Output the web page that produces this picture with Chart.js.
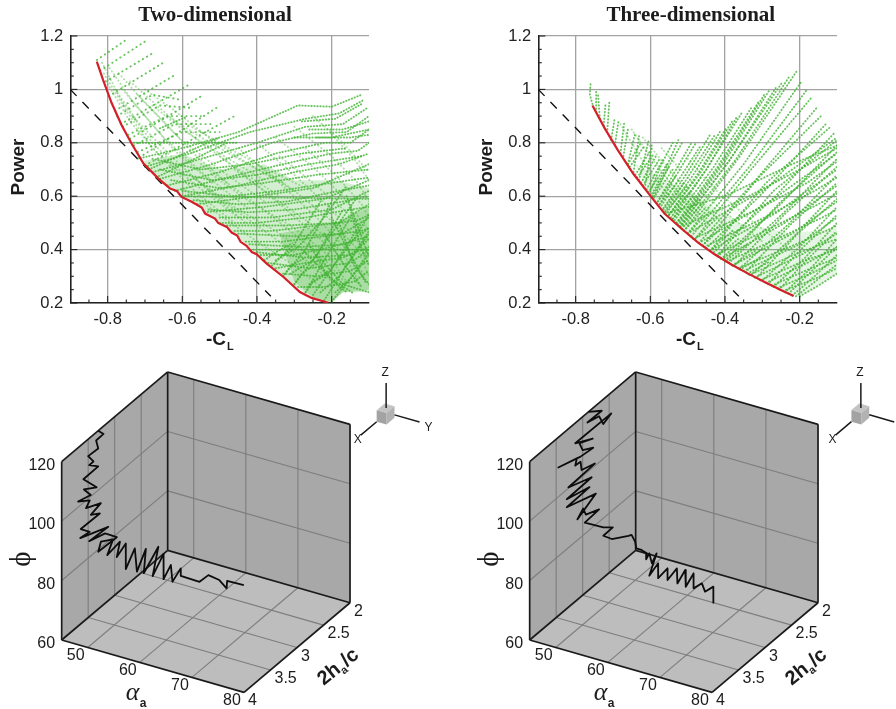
<!DOCTYPE html>
<html>
<head>
<meta charset="utf-8">
<title>Two- and three-dimensional Pareto fronts</title>
<script src="https://cdn.jsdelivr.net/npm/chart.js@4"></script>
<style>
html, body { margin: 0; background: #fff; }
#page { position: relative; width: 896px; height: 709px; overflow: hidden; }
canvas { position: absolute; }
</style>
</head>
<body>
<div id="page">
  <canvas id="front2d" width="448" height="355" style="left:0;top:0"></canvas>
  <canvas id="front3d" width="448" height="355" style="left:448px;top:0"></canvas>
  <canvas id="path2d" width="448" height="354" style="left:0;top:355px"></canvas>
  <canvas id="path3d" width="448" height="354" style="left:448px;top:355px"></canvas>
</div>
<script>
// top row axes
const xTicks = [-0.8, -0.6, -0.4, -0.2];
const yTicks = [0.2, 0.4, 0.6, 0.8, 1, 1.2];
const xMinor = [-0.85, -0.75, -0.7, -0.65, -0.55, -0.5, -0.45, -0.35, -0.3, -0.25, -0.15];
const yMinor = [0.25, 0.3, 0.35, 0.45, 0.5, 0.55, 0.65, 0.7, 0.75, 0.85, 0.9, 0.95, 1.05, 1.1, 1.15];

// dashed reference line, same in both panels
const refLine = [[-0.9, 1], [-0.363, 0.225]];

// red fronts
const front2d = [[-0.829,1.104],[-0.812,1.035],[-0.789,0.948],[-0.7625,0.866],[-0.736,0.7975],[-0.704,0.7225],[-0.664,0.666],[-0.633,0.629],[-0.615,0.62],[-0.602,0.5975],[-0.575,0.579],[-0.548,0.5575],[-0.539,0.535],[-0.5125,0.516],[-0.504,0.5],[-0.481,0.485],[-0.468,0.464],[-0.453,0.4525],[-0.444,0.429],[-0.428,0.414],[-0.414,0.391],[-0.401,0.3825],[-0.374,0.3475],[-0.329,0.2975],[-0.285,0.241],[-0.254,0.219],[-0.209,0.201]];
const front3d = [[-0.755,0.94],[-0.722,0.854],[-0.687,0.7725],[-0.646,0.685],[-0.606,0.6125],[-0.562,0.535],[-0.517,0.479],[-0.472,0.4265],[-0.428,0.3825],[-0.383,0.344],[-0.338,0.31],[-0.294,0.279],[-0.249,0.2475],[-0.216,0.226]];

// where the green samples pile up so tightly they read as a tint
const dense2d = [[-0.71,0.73],[-0.664,0.666],[-0.575,0.579],[-0.481,0.485],[-0.401,0.3825],[-0.329,0.2975],[-0.254,0.219],[-0.2,0.2],[-0.17,0.24],[-0.1,0.24],[-0.1,0.63],[-0.19,0.66],[-0.3,0.66],[-0.38,0.72],[-0.5,0.7],[-0.6,0.76]];
const core2d = [[-0.34,0.46],[-0.3,0.28],[-0.25,0.222],[-0.2,0.205],[-0.17,0.24],[-0.1,0.25],[-0.1,0.56],[-0.19,0.5]];
const dense3d = [[-0.64,0.72],[-0.606,0.6125],[-0.517,0.479],[-0.428,0.3825],[-0.338,0.31],[-0.249,0.2475],[-0.2,0.225],[-0.1,0.31],[-0.1,0.48],[-0.22,0.46],[-0.36,0.5],[-0.5,0.62]];

const sparse2d = [
  [[-0.829,1.11],[-0.745,1.191]], [[-0.82,1.07],[-0.696,1.183]], [[-0.805,1.03],[-0.673,1.141]],
  [[-0.797,0.975],[-0.646,1.104]], [[-0.78,0.92],[-0.62,1.054]], [[-0.765,0.87],[-0.584,1.016]],
  [[-0.74,0.815],[-0.544,0.979]], [[-0.715,0.745],[-0.504,0.935]], [[-0.7,0.715],[-0.463,0.898]],
  [[-0.775,0.9],[-0.68,0.98],[-0.6,0.96]], [[-0.76,0.86],[-0.66,0.94],[-0.57,0.93]], [[-0.745,0.83],[-0.64,0.9],[-0.55,0.9]],
  [[-0.73,0.79],[-0.62,0.87],[-0.52,0.87]], [[-0.72,0.765],[-0.6,0.84],[-0.5,0.84]]
];
// faint rows crossing the main ones
const cross2d = [
  [[-0.815,1.1],[-0.76,0.95],[-0.68,0.8],[-0.58,0.66],[-0.45,0.52]],
  [[-0.795,1.08],[-0.73,0.95],[-0.65,0.82],[-0.54,0.68],[-0.42,0.55]],
  [[-0.77,1.06],[-0.7,0.95],[-0.61,0.82],[-0.5,0.7],[-0.38,0.58]],
  [[-0.74,1.03],[-0.66,0.93],[-0.56,0.81],[-0.46,0.71],[-0.34,0.6]],
  [[-0.7,1.0],[-0.62,0.92],[-0.52,0.81],[-0.41,0.71],[-0.3,0.62]],
  [[-0.8,1.02],[-0.74,0.88],[-0.66,0.75],[-0.56,0.61],[-0.46,0.5]],
  [[-0.78,1.0],[-0.72,0.88],[-0.63,0.75],[-0.53,0.62],[-0.43,0.5]],
  [[-0.81,1.06],[-0.75,0.92],[-0.68,0.78],[-0.6,0.68]], [[-0.76,1.0],[-0.7,0.9],[-0.62,0.77],[-0.52,0.65]],
  [[-0.72,0.98],[-0.65,0.88],[-0.57,0.76],[-0.48,0.65]], [[-0.68,0.94],[-0.6,0.85],[-0.5,0.76],[-0.38,0.66]],
  [[-0.64,0.9],[-0.55,0.82],[-0.45,0.74],[-0.33,0.65]], [[-0.6,0.88],[-0.5,0.8],[-0.4,0.72],[-0.27,0.63]],
  [[-0.6,0.63],[-0.5,0.53],[-0.4,0.43],[-0.3,0.34],[-0.22,0.25]],
  [[-0.58,0.68],[-0.47,0.56],[-0.36,0.45],[-0.27,0.36],[-0.19,0.27]],
  [[-0.55,0.72],[-0.43,0.6],[-0.32,0.48],[-0.23,0.38],[-0.16,0.27]],
  [[-0.5,0.75],[-0.39,0.63],[-0.28,0.5],[-0.19,0.39],[-0.13,0.27]],
  [[-0.45,0.78],[-0.34,0.65],[-0.24,0.52],[-0.16,0.4],[-0.11,0.3]],
  [[-0.4,0.8],[-0.3,0.68],[-0.2,0.55],[-0.13,0.43],[-0.1,0.36]],
  [[-0.35,0.82],[-0.25,0.71],[-0.17,0.6],[-0.1,0.47]],
  [[-0.3,0.86],[-0.2,0.75],[-0.13,0.65],[-0.1,0.58]],
  [[-0.25,0.9],[-0.17,0.8],[-0.1,0.69]],
  [[-0.56,0.66],[-0.45,0.55],[-0.35,0.47],[-0.25,0.37],[-0.18,0.26]], [[-0.52,0.68],[-0.42,0.58],[-0.31,0.49],[-0.21,0.38],[-0.15,0.26]],
  [[-0.46,0.7],[-0.36,0.6],[-0.26,0.5],[-0.17,0.39],[-0.12,0.26]], [[-0.4,0.72],[-0.3,0.62],[-0.21,0.52],[-0.13,0.4],[-0.1,0.3]],
  [[-0.34,0.75],[-0.25,0.65],[-0.16,0.54],[-0.1,0.43]], [[-0.27,0.78],[-0.19,0.68],[-0.12,0.57],[-0.1,0.52]], [[-0.2,0.83],[-0.14,0.74],[-0.1,0.66]]
];
const rows2d = [
  [[-0.66,0.854],[-0.588,0.898]], [[-0.69,0.7],[-0.5,0.82]], [[-0.67,0.67],[-0.48,0.8]],
  [[-0.72,0.74],[-0.6,0.78],[-0.45,0.84],[-0.29,0.94],[-0.2,0.935],[-0.12,0.98]],
  [[-0.7,0.71],[-0.58,0.76],[-0.42,0.84],[-0.27,0.89],[-0.18,0.91],[-0.115,0.96]],
  [[-0.68,0.69],[-0.55,0.74],[-0.4,0.8],[-0.27,0.86],[-0.17,0.87],[-0.105,0.93]],
  [[-0.66,0.665],[-0.52,0.72],[-0.36,0.8],[-0.25,0.835],[-0.16,0.84],[-0.1,0.9]],
  [[-0.64,0.64],[-0.5,0.69],[-0.35,0.76],[-0.22,0.8],[-0.15,0.8],[-0.1,0.85]],
  [[-0.62,0.62],[-0.48,0.67],[-0.33,0.72],[-0.2,0.76],[-0.13,0.77],[-0.1,0.8]],
  [[-0.6,0.6],[-0.45,0.64],[-0.3,0.69],[-0.18,0.72],[-0.1,0.76]],
  [[-0.28,0.88],[-0.19,0.89],[-0.12,0.945]], [[-0.26,0.85],[-0.17,0.85],[-0.1,0.88]], [[-0.24,0.82],[-0.15,0.82],[-0.1,0.83]], [[-0.3,0.82],[-0.2,0.82],[-0.1,0.85]],
  [[-0.73,0.8],[-0.6,0.8],[-0.45,0.8]], [[-0.6,0.6],[-0.35,0.595],[-0.1,0.59]], [[-0.41,0.4],[-0.25,0.4],[-0.1,0.4]],
  [[-0.68,0.74],[-0.55,0.7],[-0.42,0.72],[-0.28,0.76],[-0.16,0.78]], [[-0.66,0.7],[-0.52,0.66],[-0.4,0.68],[-0.26,0.72],[-0.12,0.75]],
  [[-0.63,0.66],[-0.5,0.63],[-0.38,0.65],[-0.24,0.68],[-0.1,0.7]], [[-0.6,0.62],[-0.47,0.6],[-0.34,0.62],[-0.2,0.65],[-0.1,0.67]],
  [[-0.57,0.585],[-0.45,0.57],[-0.32,0.58],[-0.18,0.62],[-0.1,0.64]], [[-0.53,0.55],[-0.42,0.54],[-0.3,0.55],[-0.17,0.58],[-0.1,0.6]],
  [[-0.5,0.5],[-0.4,0.5],[-0.27,0.52],[-0.15,0.55],[-0.1,0.56]], [[-0.46,0.47],[-0.36,0.47],[-0.24,0.49],[-0.13,0.51],[-0.1,0.53]],
  [[-0.43,0.43],[-0.33,0.43],[-0.22,0.45],[-0.12,0.47],[-0.1,0.48]], [[-0.39,0.38],[-0.3,0.38],[-0.2,0.41],[-0.1,0.45]], [[-0.35,0.33],[-0.27,0.35],[-0.17,0.37],[-0.1,0.41]],
  [[-0.56,0.57],[-0.4,0.6],[-0.25,0.63],[-0.1,0.72]], [[-0.54,0.54],[-0.38,0.56],[-0.22,0.59],[-0.1,0.66]],
  [[-0.5,0.52],[-0.36,0.52],[-0.2,0.55],[-0.1,0.62]], [[-0.48,0.49],[-0.33,0.49],[-0.18,0.5],[-0.1,0.57]],
  [[-0.45,0.46],[-0.3,0.45],[-0.17,0.46],[-0.1,0.52]], [[-0.42,0.42],[-0.28,0.41],[-0.16,0.42],[-0.1,0.48]],
  [[-0.4,0.39],[-0.27,0.37],[-0.15,0.38],[-0.1,0.44]], [[-0.37,0.35],[-0.26,0.33],[-0.15,0.35],[-0.1,0.4]],
  [[-0.33,0.31],[-0.24,0.3],[-0.15,0.32],[-0.1,0.36]], [[-0.29,0.26],[-0.22,0.26],[-0.14,0.28],[-0.1,0.32]],
  [[-0.25,0.23],[-0.2,0.33],[-0.12,0.5]], [[-0.22,0.21],[-0.17,0.32],[-0.1,0.47]], [[-0.2,0.205],[-0.14,0.31],[-0.1,0.39]],
  [[-0.27,0.24],[-0.22,0.36],[-0.15,0.52]], [[-0.3,0.27],[-0.24,0.38],[-0.17,0.55]], [[-0.33,0.3],[-0.27,0.4],[-0.2,0.58]],
  [[-0.36,0.34],[-0.3,0.42],[-0.23,0.58]], [[-0.24,0.38],[-0.17,0.27],[-0.1,0.24]], [[-0.28,0.4],[-0.2,0.29],[-0.14,0.235]],
  [[-0.18,0.5],[-0.14,0.34],[-0.1,0.27]], [[-0.15,0.55],[-0.12,0.4],[-0.1,0.34]],
  [[-0.26,0.27],[-0.21,0.31],[-0.14,0.44],[-0.1,0.53]], [[-0.23,0.24],[-0.18,0.3],[-0.12,0.42],[-0.1,0.46]], [[-0.19,0.24],[-0.15,0.29],[-0.11,0.36]],
  [[-0.31,0.31],[-0.25,0.36],[-0.19,0.48],[-0.13,0.6]], [[-0.35,0.36],[-0.29,0.41],[-0.22,0.52],[-0.16,0.64]], [[-0.22,0.46],[-0.17,0.35],[-0.12,0.26]],
  [[-0.2,0.52],[-0.15,0.38],[-0.11,0.28]], [[-0.16,0.6],[-0.12,0.45],[-0.1,0.37]], [[-0.26,0.42],[-0.21,0.3],[-0.16,0.24]],
  [[-0.33,0.3],[-0.31,0.34],[-0.27,0.37]], [[-0.3,0.27],[-0.28,0.31],[-0.24,0.35]], [[-0.27,0.24],[-0.25,0.28],[-0.21,0.32]], [[-0.38,0.36],[-0.35,0.39],[-0.31,0.42]]
];
const rows3d = [
  [[-0.755,0.945],[-0.762,0.98],[-0.76,1.02]], [[-0.745,0.915],[-0.745,0.99]], [[-0.735,0.89],[-0.74,0.98]],
  [[-0.725,0.865],[-0.72,0.945]], [[-0.715,0.85],[-0.71,0.95]], [[-0.705,0.81],[-0.695,0.895]],
  [[-0.695,0.79],[-0.685,0.885]], [[-0.68,0.76],[-0.67,0.875]], [[-0.672,0.75],[-0.66,0.85]],
  [[-0.66,0.72],[-0.64,0.84]], [[-0.645,0.69],[-0.63,0.825]], [[-0.63,0.66],[-0.605,0.805]], [[-0.615,0.63],[-0.595,0.8]],
  [[-0.66,0.72],[-0.625,0.8]], [[-0.64,0.68],[-0.6,0.77]], [[-0.625,0.65],[-0.585,0.75]], [[-0.61,0.625],[-0.565,0.74]],
  [[-0.595,0.6],[-0.55,0.71]], [[-0.58,0.58],[-0.53,0.68]], [[-0.565,0.55],[-0.51,0.65]], [[-0.55,0.53],[-0.49,0.62]],
  [[-0.53,0.5],[-0.47,0.59]], [[-0.51,0.47],[-0.45,0.56]],
  [[-0.655,0.71],[-0.615,0.79]], [[-0.635,0.67],[-0.59,0.76]], [[-0.62,0.64],[-0.575,0.74]], [[-0.605,0.615],[-0.555,0.72]],
  [[-0.59,0.595],[-0.54,0.7]], [[-0.575,0.57],[-0.52,0.665]], [[-0.56,0.54],[-0.5,0.64]], [[-0.54,0.515],[-0.48,0.605]],
  [[-0.52,0.485],[-0.46,0.575]], [[-0.5,0.46],[-0.44,0.545]], [[-0.48,0.44],[-0.42,0.52]], [[-0.46,0.415],[-0.4,0.495]],
  [[-0.44,0.395],[-0.38,0.47]], [[-0.42,0.375],[-0.36,0.445]], [[-0.4,0.355],[-0.34,0.42]], [[-0.38,0.34],[-0.32,0.395]],
  [[-0.36,0.325],[-0.3,0.375]], [[-0.34,0.31],[-0.28,0.355]],
  [[-0.6,0.62],[-0.57,0.72],[-0.54,0.8]], [[-0.59,0.6],[-0.555,0.7],[-0.515,0.8]], [[-0.58,0.58],[-0.535,0.69],[-0.49,0.8]],
  [[-0.57,0.565],[-0.52,0.67],[-0.465,0.79]], [[-0.565,0.555],[-0.505,0.68],[-0.44,0.83]], [[-0.555,0.54],[-0.485,0.68],[-0.414,0.84]],
  [[-0.55,0.53],[-0.465,0.69],[-0.379,0.885]], [[-0.54,0.515],[-0.45,0.7],[-0.356,0.91]], [[-0.53,0.5],[-0.42,0.71],[-0.307,0.96]],
  [[-0.525,0.49],[-0.405,0.72],[-0.28,1.0]], [[-0.52,0.485],[-0.385,0.74],[-0.245,1.03]], [[-0.51,0.47],[-0.36,0.75],[-0.209,1.066]],
  [[-0.49,0.45],[-0.335,0.71],[-0.18,1.0]], [[-0.47,0.425],[-0.315,0.665],[-0.155,0.93]], [[-0.45,0.405],[-0.29,0.625],[-0.13,0.87]],
  [[-0.43,0.39],[-0.265,0.6],[-0.105,0.84]], [[-0.41,0.365],[-0.255,0.565],[-0.1,0.79]], [[-0.39,0.35],[-0.245,0.535],[-0.1,0.74]],
  [[-0.36,0.33],[-0.23,0.495],[-0.1,0.68]], [[-0.33,0.305],[-0.215,0.45],[-0.1,0.62]], [[-0.3,0.285],[-0.2,0.41],[-0.1,0.56]],
  [[-0.27,0.26],[-0.185,0.37],[-0.1,0.5]], [[-0.24,0.24],[-0.17,0.33],[-0.1,0.44]], [[-0.22,0.228],[-0.16,0.3],[-0.1,0.38]],
  [[-0.2,0.225],[-0.15,0.265],[-0.1,0.31]],
  [[-0.595,0.61],[-0.56,0.7],[-0.525,0.81]], [[-0.575,0.57],[-0.53,0.68],[-0.478,0.8]], [[-0.56,0.545],[-0.5,0.67],[-0.427,0.83]],
  [[-0.55,0.53],[-0.47,0.69],[-0.395,0.86]], [[-0.545,0.52],[-0.45,0.7],[-0.367,0.9]], [[-0.535,0.51],[-0.43,0.71],[-0.33,0.93]],
  [[-0.527,0.495],[-0.41,0.72],[-0.295,0.98]], [[-0.522,0.487],[-0.39,0.73],[-0.262,1.01]], [[-0.515,0.478],[-0.37,0.74],[-0.227,1.05]],
  [[-0.5,0.46],[-0.35,0.72],[-0.195,1.03]], [[-0.48,0.44],[-0.33,0.7],[-0.168,0.97]], [[-0.46,0.415],[-0.31,0.67],[-0.143,0.9]],
  [[-0.44,0.395],[-0.29,0.65],[-0.117,0.86]], [[-0.42,0.378],[-0.27,0.62],[-0.1,0.81]], [[-0.4,0.358],[-0.25,0.58],[-0.1,0.765]],
  [[-0.375,0.34],[-0.235,0.54],[-0.1,0.71]], [[-0.345,0.315],[-0.22,0.5],[-0.1,0.65]], [[-0.315,0.295],[-0.205,0.46],[-0.1,0.59]],
  [[-0.285,0.27],[-0.19,0.41],[-0.1,0.53]], [[-0.255,0.25],[-0.175,0.37],[-0.1,0.47]], [[-0.23,0.235],[-0.16,0.33],[-0.1,0.41]], [[-0.21,0.225],[-0.15,0.29],[-0.1,0.345]],
  [[-0.5,0.46],[-0.3,0.62],[-0.1,0.82]], [[-0.47,0.425],[-0.28,0.58],[-0.1,0.76]], [[-0.44,0.395],[-0.26,0.54],[-0.1,0.7]],
  [[-0.41,0.365],[-0.24,0.5],[-0.1,0.64]], [[-0.38,0.34],[-0.22,0.46],[-0.1,0.58]], [[-0.35,0.32],[-0.2,0.42],[-0.1,0.52]],
  [[-0.32,0.295],[-0.19,0.385],[-0.1,0.46]], [[-0.29,0.275],[-0.18,0.35],[-0.1,0.41]], [[-0.26,0.255],[-0.17,0.31],[-0.1,0.36]],
  [[-0.56,0.535],[-0.4,0.6],[-0.22,0.72],[-0.1,0.79]], [[-0.52,0.485],[-0.35,0.59],[-0.2,0.7],[-0.1,0.78]],
  [[-0.485,0.44],[-0.3,0.56],[-0.18,0.65],[-0.1,0.73]], [[-0.455,0.41],[-0.28,0.53],[-0.16,0.62],[-0.1,0.67]],
  [[-0.425,0.38],[-0.25,0.5],[-0.15,0.57],[-0.1,0.61]], [[-0.395,0.355],[-0.23,0.46],[-0.14,0.52],[-0.1,0.55]],
  [[-0.365,0.33],[-0.21,0.42],[-0.13,0.47],[-0.1,0.49]], [[-0.335,0.305],[-0.2,0.39],[-0.12,0.43],[-0.1,0.44]],
  [[-0.305,0.285],[-0.185,0.36],[-0.1,0.4]], [[-0.275,0.265],[-0.17,0.33],[-0.1,0.37]], [[-0.245,0.245],[-0.16,0.29],[-0.1,0.33]]
];
const cross3d = [
  [[-0.68,0.87],[-0.62,0.73],[-0.55,0.6],[-0.48,0.5]], [[-0.65,0.85],[-0.59,0.73],[-0.52,0.6],[-0.44,0.49]],
  [[-0.62,0.82],[-0.55,0.7],[-0.47,0.58],[-0.38,0.47]], [[-0.57,0.78],[-0.5,0.67],[-0.41,0.55],[-0.3,0.43]],
  [[-0.5,0.74],[-0.43,0.63],[-0.33,0.51],[-0.22,0.39]]
];

// bottom row axes
const alphaRange = [45, 80], hRange = [2, 4], phiRange = [60, 120];
const alphaTicks = [50, 60, 70, 80];
const hTicks = [2, 2.5, 3, 3.5, 4];
const phiTicks = [60, 80, 100, 120];

// optimal paths
const alpha2d = [45,45,45,45,45,45,45,45,45,45,45,45,45,45,45,45,45,45,45,45,45,45,45,45,45,45,45,45,45,45,45,45,45,45,45,45.9,45.5,48.3,47.2,49.3,49.3,50.7,51,52.6,52.6,56.2,57.9,60,61.4,61.5,64.7];
const h2d = [3.31,3.21,3.35,3.31,3.5,3.4,3.48,3.31,3.59,3.34,3.58,3.45,3.69,3.47,3.54,3.26,3.45,3.28,3.64,3.47,3.65,3.12,3.48,3.18,2.96,3.31,3.26,3.03,3.14,2.9,2.96,2.79,2.79,2.62,2.58,2.5,2.5,2.5,2.5,2.5,2.5,2.5,2.5,2.5,2.5,2.5,2.5,2.5,2.5,2.5,2.5];
const phi2d = [120,117.4,117.3,114,114.3,111,111,108,107.9,101.4,104.3,100.5,101.9,99,97.4,94.9,93.8,91.7,91.9,88.4,89,84.8,85.4,83.5,78.9,79.3,81.9,79.2,75.6,76.5,72.2,74.2,65.6,70,61.6,68.5,60.1,70.4,60,68.5,60,65.5,60,65.3,62.8,62.6,65.7,65.1,63,65.6,65.8];

const alpha3d = [45,45,45,45,45,45.4,45,45,45,45,45,45,45,45,45,45,45,45,45,45,45,45,45,45,45,45,45,45,45,45,45.7,45,45.5,48.7,49.3,50,50.2,51.2,52.2,52.1,52.7,53.2,54.1,52.7,54.4,54.4,56.2,56.2,58,58.1,59.6,59.7,61.2,61.2,62.8,63.4,65,65];
const h3d = [2.89,2.64,2.91,2.69,2.61,2.5,3.14,2.81,3.06,3,2.8,3.04,3.46,3.11,3.14,3.04,3.02,2.77,3.27,2.83,3.3,2.87,3.3,2.75,3.1,2.99,2.94,2.69,2.96,2.61,2.5,2.61,2.5,2.5,2.5,2.5,2.5,2.5,2.5,2.5,2.5,2.5,2.5,2.5,2.5,2.5,2.5,2.5,2.5,2.5,2.5,2.5,2.5,2.5,2.5,2.5,2.5,2.5];
const phi3d = [120,116.6,116.7,115.5,111.7,113.8,113.2,109.8,112,108.8,106.6,107.2,109.9,107.7,105.7,105.5,102.4,100.8,100.3,97.1,96.8,94.4,94.1,90.4,87,89,86.2,84.2,83.8,76.9,75.6,74.1,71.6,74.3,74.9,72.9,70.8,70.8,70.2,68.1,70.4,67.3,71.1,62.9,67.9,62.9,67.1,63.2,68,63,68.3,62.7,67.9,62.9,65.4,62.9,65.4,60];

const GREEN = 'rgba(68,180,54,0.8)';
const PALE = 'rgba(68,180,54,0.42)';
const SANS = '"Liberation Sans", Arial, sans-serif';
const SERIF = '"Liberation Serif", "Times New Roman", serif';

function toPoints(list) {
  return list.map(p => ({ x: p[0], y: p[1] }));
}

function text(ctx, str, x, y, font, align, angle) {
  ctx.save();
  ctx.translate(x, y);
  if (angle) ctx.rotate(angle);
  ctx.font = font;
  ctx.fillStyle = '#1c1c1c';
  ctx.textAlign = align || 'left';
  ctx.textBaseline = 'alphabetic';
  ctx.fillText(str, 0, 0);
  ctx.restore();
}

function frontChart(id, title, titleX, plotLeft, front, groups, tints, powerX, clX) {
  const datasets = [];
  groups.forEach(g => g.rows.forEach(r => datasets.push({
    data: toPoints(r), showLine: true, pointRadius: 0, borderColor: g.color, borderWidth: 1.9,
    borderDash: [0.4, g.gap], borderCapStyle: 'round', order: 3
  })));
  tints.forEach(t => datasets.push({
    data: toPoints(t.area.concat([t.area[0]])), showLine: true, pointRadius: 0, borderWidth: 0,
    fill: 'shape', backgroundColor: t.color, order: 4
  }));
  datasets.push({ data: toPoints(refLine), showLine: true, pointRadius: 0, borderColor: '#111', borderWidth: 1.4, borderDash: [9, 8.5], order: 2 });
  datasets.push({ data: toPoints(front), showLine: true, pointRadius: 0, borderColor: '#d3202a', borderWidth: 2.2, order: 1 });

  new Chart(document.getElementById(id), {
    type: 'scatter',
    data: { datasets },
    options: {
      responsive: false,
      animation: false,
      layout: { padding: { top: 36, right: 448 - plotLeft - 298.7, bottom: 0, left: 0 } },
      plugins: { legend: { display: false }, tooltip: { enabled: false } },
      scales: {
        x: {
          type: 'linear', min: -0.9, max: -0.1,
          afterBuildTicks: s => { s.ticks = xTicks.map(v => ({ value: v })); },
          afterFit: s => { s.height = 52; },
          grid: { color: '#a2a2a2', lineWidth: 1.3, drawTicks: false },
          border: { color: '#222', width: 1.6 },
          ticks: { font: { family: SANS, size: 16.5 }, color: '#222', padding: 7, maxRotation: 0, autoSkip: false, callback: v => String(v) }
        },
        y: {
          type: 'linear', min: 0.2, max: 1.2,
          afterBuildTicks: s => { s.ticks = yTicks.map(v => ({ value: v })); },
          afterFit: s => { s.width = plotLeft; },
          grid: { color: '#a2a2a2', lineWidth: 1.3, drawTicks: false },
          border: { color: '#222', width: 1.6 },
          ticks: { font: { family: SANS, size: 16.5 }, color: '#222', padding: 7, callback: v => String(v) }
        }
      }
    },
    plugins: [{
      id: 'frontMarks',
      afterDraw(chart) {
        const { ctx, scales, chartArea } = chart;
        ctx.save();
        ctx.strokeStyle = '#222';
        ctx.lineWidth = 1.1;
        const tick = (x1, y1, x2, y2) => { ctx.beginPath(); ctx.moveTo(x1, y1); ctx.lineTo(x2, y2); ctx.stroke(); };
        xTicks.forEach(v => { const p = scales.x.getPixelForValue(v); tick(p, chartArea.bottom, p, chartArea.bottom - 7); });
        xMinor.forEach(v => { const p = scales.x.getPixelForValue(v); tick(p, chartArea.bottom, p, chartArea.bottom - 3.5); });
        yTicks.forEach(v => { const p = scales.y.getPixelForValue(v); tick(chartArea.left, p, chartArea.left + 7, p); });
        yMinor.forEach(v => { const p = scales.y.getPixelForValue(v); tick(chartArea.left, p, chartArea.left + 3.5, p); });
        ctx.restore();
        text(ctx, title, titleX, 21, 'bold 21px ' + SERIF, 'center');
        text(ctx, 'Power', powerX, 167, 'bold 19px ' + SANS, 'center', -Math.PI / 2);
        text(ctx, '-C', clX, 345, 'bold 19px ' + SANS);
        text(ctx, 'L', clX + 21, 350, 'bold 11px ' + SANS);
      }
    }]
  });
}

frontChart('front2d', 'Two-dimensional', 215, 70.3, front2d,
  [{ rows: sparse2d, color: GREEN, gap: 4.4 }, { rows: cross2d, color: PALE, gap: 3.4 }, { rows: rows2d, color: GREEN, gap: 2.6 }],
  [{ area: dense2d, color: 'rgba(72,182,58,0.24)' }, { area: core2d, color: 'rgba(72,182,58,0.3)' }], 23.5, 206);
frontChart('front3d', 'Three-dimensional', 242.8, 90.3, front3d,
  [{ rows: cross3d, color: PALE, gap: 3.2 }, { rows: rows3d, color: GREEN, gap: 2.9 }],
  [{ area: dense3d, color: 'rgba(72,182,58,0.14)' }], 43.5, 228);

// axonometric view of the box, read from its corners
function projector(originX) {
  return (alpha, h, phi) => ({
    x: originX + 5.21 * (alpha - 45) + 53 * (4 - h),
    y: 285 + 1.497 * (alpha - 45) - 44.83 * (4 - h) - 2.973 * (phi - 60)
  });
}

function pathChart(id, originX, alpha, h, phi, triad, showY) {
  const p3 = projector(originX);
  const datasets = [];
  const [a0, a1] = alphaRange, [h0, h1] = hRange, [f0, f1] = phiRange;

  const face = (pts, color, order) => datasets.push({
    data: pts.concat([pts[0]]), showLine: true, pointRadius: 0, borderWidth: 0,
    fill: 'shape', backgroundColor: color, order
  });
  const seg = (a, b, color, width, order) => datasets.push({
    data: [a, b], showLine: true, pointRadius: 0, borderColor: color, borderWidth: width, order
  });

  face([p3(a0, h1, f0), p3(a0, h0, f0), p3(a0, h0, f1), p3(a0, h1, f1)], '#a8a8a8', 9);
  face([p3(a0, h0, f0), p3(a1, h0, f0), p3(a1, h0, f1), p3(a0, h0, f1)], '#a8a8a8', 9);
  face([p3(a0, h1, f0), p3(a1, h1, f0), p3(a1, h0, f0), p3(a0, h0, f0)], '#bdbdbd', 9);

  alphaTicks.filter(v => v < a1).forEach(v => {
    seg(p3(v, h1, f0), p3(v, h0, f0), '#7d7d7d', 1.1, 5);
    seg(p3(v, h0, f0), p3(v, h0, f1), '#7d7d7d', 1.1, 5);
  });
  hTicks.filter(v => v > h0 && v < h1).forEach(v => {
    seg(p3(a0, v, f0), p3(a1, v, f0), '#7d7d7d', 1.1, 5);
    seg(p3(a0, v, f0), p3(a0, v, f1), '#7d7d7d', 1.1, 5);
  });
  phiTicks.filter(v => v > f0 && v < f1).forEach(v => {
    seg(p3(a0, h1, v), p3(a0, h0, v), '#7d7d7d', 1.1, 5);
    seg(p3(a0, h0, v), p3(a1, h0, v), '#7d7d7d', 1.1, 5);
  });

  [
    [p3(a0, h1, f0), p3(a1, h1, f0)], [p3(a1, h1, f0), p3(a1, h0, f0)], [p3(a1, h0, f0), p3(a0, h0, f0)],
    [p3(a0, h0, f0), p3(a0, h1, f0)], [p3(a0, h1, f0), p3(a0, h1, f1)], [p3(a0, h1, f1), p3(a0, h0, f1)],
    [p3(a0, h0, f1), p3(a1, h0, f1)], [p3(a1, h0, f1), p3(a1, h0, f0)], [p3(a0, h0, f0), p3(a0, h0, f1)]
  ].forEach(e => seg(e[0], e[1], '#1a1a1a', 1.7, 4));

  // orientation cube
  const [ta, th, tf] = triad;
  const cubeA = ta + 1.9, cubeH = th - 0.15, cubeF = tf + 3.9;
  face([p3(ta, th, tf), p3(cubeA, th, tf), p3(cubeA, th, cubeF), p3(ta, th, cubeF)], '#a3a3a3', 3);
  face([p3(cubeA, th, tf), p3(cubeA, cubeH, tf), p3(cubeA, cubeH, cubeF), p3(cubeA, th, cubeF)], '#b2b2b2', 3);
  face([p3(ta, th, cubeF), p3(cubeA, th, cubeF), p3(cubeA, cubeH, cubeF), p3(ta, cubeH, cubeF)], '#c4c4c4', 3);
  const zStart = p3(ta + 1, th - 0.08, cubeF), zEnd = p3(ta + 1, th - 0.08, cubeF + 8.4);
  const yStart = p3(cubeA, cubeH, tf + 1), yEnd = p3(cubeA + 4.8, cubeH, tf + 1);
  const xStart = p3(ta, th, tf), xEnd = p3(ta, th + 0.3, tf);
  seg(zStart, zEnd, '#1a1a1a', 1.5, 2);
  seg(yStart, yEnd, '#1a1a1a', 1.5, 2);
  seg(xStart, xEnd, '#1a1a1a', 1.5, 2);

  datasets.push({
    data: alpha.map((a, i) => p3(a, h[i], phi[i])), showLine: true, pointRadius: 0,
    borderColor: '#0c0c0c', borderWidth: 1.8, borderJoinStyle: 'round', order: 1
  });

  new Chart(document.getElementById(id), {
    type: 'scatter',
    data: { datasets },
    options: {
      responsive: false,
      animation: false,
      layout: { padding: 0 },
      plugins: { legend: { display: false }, tooltip: { enabled: false } },
      scales: {
        x: { type: 'linear', min: 0, max: 448, display: false },
        y: { type: 'linear', min: 0, max: 354, reverse: true, display: false }
      }
    },
    plugins: [{
      id: 'boxLabels',
      afterDraw(chart) {
        const { ctx, scales } = chart;
        const at = p => ({ x: scales.x.getPixelForValue(p.x), y: scales.y.getPixelForValue(p.y) });
        const font = '16px ' + SANS;
        phiTicks.forEach(v => { const p = at(p3(a0, h1, v)); text(ctx, String(v), p.x - 6.5, p.y + 8, font, 'right'); });
        alphaTicks.forEach(v => { const p = at(p3(v, h1, f0)); text(ctx, String(v), p.x - 12, p.y + 13, font, 'center'); });
        hTicks.forEach(v => { const p = at(p3(a1, v, f0)); text(ctx, String(v), p.x + 4, p.y + 13, font, 'left'); });

        const base = at(p3(a0, h1, f0));
        text(ctx, '\u03D5', base.x - 32, base.y - 81, '29px ' + SERIF, 'center', -Math.PI / 2);
        text(ctx, '\u03B1', base.x + 71, base.y + 60, 'italic 26px ' + SERIF, 'center');
        text(ctx, 'a', base.x + 78, base.y + 67, 'bold 12px ' + SANS);

        ctx.save();
        ctx.translate(base.x + 262, base.y + 46);
        ctx.rotate(-0.68);
        text(ctx, '2h', 0, 0, 'bold 20px ' + SANS);
        text(ctx, 'a', 23, 4, 'bold 11px ' + SANS);
        text(ctx, '/c', 30, 0, 'bold 20px ' + SANS);
        ctx.restore();

        const labelFont = '12px ' + SANS;
        const z = at(zEnd), x = at(xEnd), y = at(yEnd);
        text(ctx, 'Z', z.x - 1, z.y - 7, labelFont, 'center');
        text(ctx, 'X', x.x - 3, x.y + 8, labelFont, 'center');
        if (showY) text(ctx, 'Y', y.x + 9, y.y + 9, labelFont, 'center');
      }
    }]
  });
}

pathChart('path2d', 61.67, alpha2d, h2d, phi2d, [80, 1.497, 113.3], true);
pathChart('path3d', 81.67, alpha3d, h3d, phi3d, [80, 1.37, 111.4], false);
</script>
</body>
</html>
